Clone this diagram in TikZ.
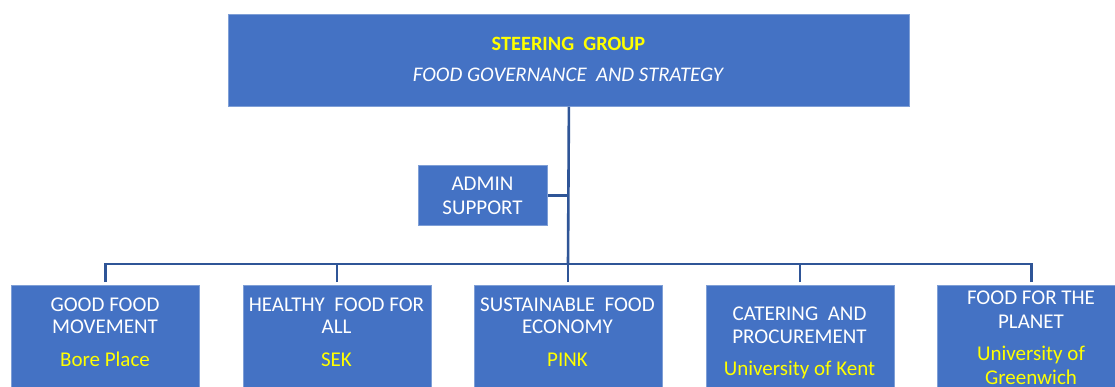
\documentclass[tikz,border=0pt]{standalone}
\usepackage{fontspec}
\setmainfont{Carlito}
\definecolor{boxblue}{HTML}{4472C4}
\definecolor{boxedge}{HTML}{7F9FD6}
\definecolor{linkblue}{HTML}{2F5597}
\definecolor{orgyellow}{HTML}{FFFF00}
\tikzset{
  unit/.style={fill=boxblue, draw=boxedge, line width=0.8pt, inner sep=0pt},
  label/.style={anchor=base, inner sep=0pt, text=white, font=\fontsize{21}{25}\selectfont},
  org/.style={label, text=orgyellow},
  link/.style={draw=linkblue, line width=2.6pt, line join=miter},
}
\begin{document}
\begin{tikzpicture}[x=1pt,y=-1pt]
\clip (0,0) rectangle (1115,387);
\fill[white] (0,0) rectangle (1115,387);

% steering group
\node[unit, anchor=north west, minimum width=681pt, minimum height=92pt] (sg) at (228,14) {};
\node[label, text=orgyellow, font=\fontsize{20.3}{24}\selectfont\bfseries] (sgt) at (568.5,50.5) {STEERING\ \ GROUP};
\node[label, font=\fontsize{20.8}{24}\selectfont\itshape] (sgs) at (568,81.5) {FOOD GOVERNANCE\ \ AND STRATEGY};

% admin support
\node[unit, anchor=north west, minimum width=129pt, minimum height=60pt] (adm) at (418,165) {};
\node[label] (adm1) at (482.5,190.7) {ADMIN};
\node[label] (adm2) at (482.5,214.3) {SUPPORT};

% work streams
\node[unit, anchor=north west, minimum width=188pt, minimum height=120pt] (b1) at (11,285) {};
\node[unit, anchor=north west, minimum width=188pt, minimum height=120pt] (b2) at (242.5,285) {};
\node[unit, anchor=north west, minimum width=188pt, minimum height=120pt] (b3) at (473.5,285) {};
\node[unit, anchor=north west, minimum width=188pt, minimum height=120pt] (b4) at (705.5,285) {};
\node[unit, anchor=north west, minimum width=188pt, minimum height=120pt] (b5) at (937,285) {};

\node[label] (b1a) at (105,311) {GOOD FOOD};
\node[label] (b1b) at (105,333.5) {MOVEMENT};
\node[org]   (b1c) at (105,366) {Bore Place};

\node[label] (b2a) at (336.5,311) {HEALTHY\ \ FOOD FOR};
\node[label] (b2b) at (336.5,333.5) {ALL};
\node[org]   (b2c) at (336.5,366) {SEK};

\node[label] (b3a) at (567.5,311) {SUSTAINABLE\ \ FOOD};
\node[label] (b3b) at (567.5,333.5) {ECONOMY};
\node[org]   (b3c) at (567.5,366) {PINK};

\node[label] (b4a) at (799.5,320) {CATERING\ \ AND};
\node[label] (b4b) at (799.5,343) {PROCUREMENT};
\node[org]   (b4c) at (799.5,375) {University of Kent};

\node[label] (b5a) at (1031,304.5) {FOOD FOR THE};
\node[label] (b5b) at (1031,328) {PLANET};
\node[org]   (b5c) at (1031,360) {University of};
\node[org]   (b5d) at (1031,384) {Greenwich};

% connectors
\coordinate (hub) at (568,264);
\draw[link] (sg.south) -- (hub);
\draw[link] (adm.east) -- (adm.east -| hub);
\draw[link] ([yshift=3pt]b1.north) |- (hub);
\draw[link] ([yshift=3pt]b2.north) |- (hub);
\draw[link] ([yshift=3pt]b3.north) -- (b3.north |- hub);
\draw[link] ([yshift=3pt]b4.north) |- (hub);
\draw[link] ([yshift=3pt]b5.north) |- (hub);
\end{tikzpicture}
\end{document}
